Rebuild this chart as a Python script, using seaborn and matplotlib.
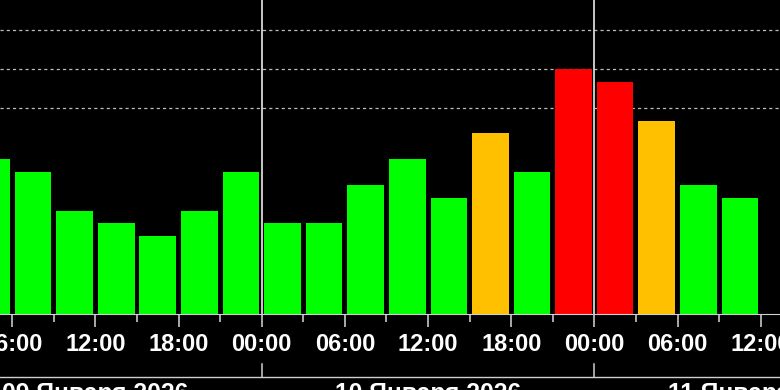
import matplotlib
matplotlib.use("Agg")
import matplotlib.pyplot as plt
import matplotlib.transforms as mtransforms
from matplotlib.lines import Line2D
import pandas as pd
import seaborn as sns

# ---- data -------------------------------------------------------------
# start hour of each 3-hour interval, counted from 09 Jan 2026 00:00
interval_start_h = [3, 6, 9, 12, 15, 18, 21,
                    24, 27, 30, 33, 36, 39, 42, 45,
                    48, 51, 54, 57]
# Kp index in thirds notation
kp_codes = ["4-", "3+", "2+", "2o", "2-", "2+", "3+",
            "2o", "2o", "3o", "4-", "3-", "4+", "3+", "6o",
            "6-", "5-", "3o", "3-"]
major_tick_hours = [6, 12, 18, 24, 30, 36, 42, 48, 54, 60]
minor_tick_hours = [9, 15, 21, 27, 33, 39, 45, 51, 57]
day_start_hours = [0, 24, 48]
day_labels = ["09 Января 2026", "10 Января 2026", "11 Января 2026"]
level_colors = {"quiet": "#00FF00", "active": "#FFC000", "storm": "#FF0000"}

# ---- prepare ----------------------------------------------------------
def kp_value(code):
    return int(code[0]) + {"-": -1 / 3, "o": 0.0, "+": 1 / 3}[code[1]]

def level(v):
    if v < 4:
        return "quiet"
    if v < 5:
        return "active"
    return "storm"

kp = [kp_value(c) for c in kp_codes]
df = pd.DataFrame({
    "hour": [s + 1.5 for s in interval_start_h],
    "kp": kp,
    "level": [level(v) for v in kp],
})

W, H = 780, 390
fig = plt.figure(figsize=(W / 100, H / 100), dpi=100, facecolor="black")
ax_bottom_px = 313.5
ax = fig.add_axes([0, 1 - ax_bottom_px / H, 1, ax_bottom_px / H])
ax.set_facecolor("black")

sns.barplot(data=df, x="hour", y="kp", hue="level", palette=level_colors,
            native_scale=True, width=0.88, dodge=False, saturation=1,
            legend=False, linewidth=0, ax=ax, zorder=2)

# the chart draws a Kp of 0 as a short stub: bars start one third below 0
base = -1 / 3
for p in ax.patches:
    p.set_height(p.get_y() + p.get_height() - base)
    p.set_y(base)

for g in [5, 6, 7]:
    ax.axhline(g, color="#bdbdbd", lw=0.9, ls=(0, (2.5, 2.5)), zorder=1)
for d in day_start_hours[1:]:
    ax.axvline(d, color="#d8d8d8", lw=1.3, zorder=3)

for side in ["top", "left", "right"]:
    ax.spines[side].set_visible(False)
ax.spines["bottom"].set_color("#cfcfcf")
ax.spines["bottom"].set_linewidth(0.8)

ax.set_xticks(major_tick_hours)
ax.set_xticks(minor_tick_hours, minor=True)
ax.set_xticklabels([f"{h % 24:02d}:00" for h in major_tick_hours])
ax.set_yticks([])
ax.set_xlabel("")
ax.set_ylabel("")
ax.tick_params(axis="x", which="major", length=9.7, width=1.1, color="#d8d8d8",
               pad=4.0, labelcolor="white", labelsize=17)
ax.tick_params(axis="x", which="minor", length=5.5, width=1.1, color="#d8d8d8")
for t in ax.get_xticklabels():
    t.set_fontfamily("Liberation Sans")
    t.set_fontweight("bold")

ax.set_xlim(5.116, 61.39)
ax.set_ylim(base, base + ax_bottom_px / 38.6)

# ---- date axis below ---------------------------------------------------
line_y = (H - 376.7) / H
fig.add_artist(Line2D([0, 1], [line_y, line_y], transform=fig.transFigure,
                      color="#cfcfcf", lw=1.0))
trans = mtransforms.blended_transform_factory(ax.transData, fig.transFigure)
for d in day_start_hours[1:]:
    ax.add_line(Line2D([d, d], [(H - 364.3) / H, line_y], transform=trans,
                       color="#cfcfcf", lw=1.1, clip_on=False))
for d, lab in zip(day_start_hours, day_labels):
    cx = d + 12
    ax.text(cx, (H - 382.0) / H, lab, transform=trans, ha="center", va="top",
            color="white", fontsize=17.7, fontweight="bold",
            family="Liberation Sans", clip_on=False)

ax.set_xlim(5.116, 61.39)
fig.savefig("out.png", dpi=100, facecolor="black")
